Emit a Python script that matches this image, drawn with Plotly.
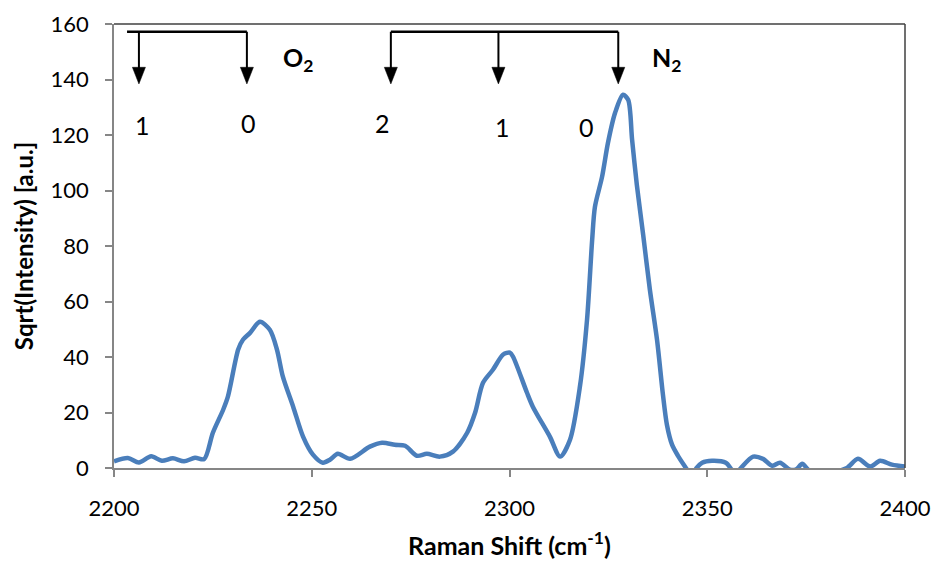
import plotly.graph_objects as go

# Spectrum
shift = [2200, 2203.5, 2206.3, 2209.4, 2212.1, 2214.9, 2217.7, 2220.5, 2222.8, 2225, 2227.6, 2228.8,
         2231.4, 2232.6, 2234.4, 2236.9, 2239.4, 2241.2, 2242.7, 2245.3, 2247.8, 2250.3, 2252.8,
         2254.6, 2256.6, 2259.7, 2264.7, 2267.8, 2271, 2273.6, 2276.6, 2279.1, 2282.4, 2285.7,
         2289.3, 2291.3, 2293.3, 2295.8, 2298.4, 2300.1, 2300.9, 2304.4, 2305.9, 2310.2, 2312.8,
         2315.3, 2317.8, 2319.6, 2320.9, 2321.6, 2323.4, 2324.9, 2326.7, 2328.7, 2330, 2331,
         2332.2, 2333.8, 2335.5, 2337.3, 2338.8, 2339.8, 2341.1, 2342.6, 2344.9, 2346, 2347.3, 2348.7,
         2351.2, 2354.7, 2356.2, 2357.2, 2358.5, 2361.6, 2364.1, 2366.4, 2368.4, 2370.9, 2372.5,
         2374, 2375.5, 2377.5, 2379.5, 2381.8, 2385.3, 2388.1, 2391.2, 2393.7, 2396.7, 2400]
sqrt_int = [2.4, 3.6, 2.0, 4.2, 2.6, 3.5, 2.4, 3.7, 3.2, 12.7, 21, 25.7,
            42.7, 46.2, 48.7, 52.7, 49.8, 42.7, 32.9, 22.1, 11.3, 4.8, 1.9,
            3.0, 5.1, 3.3, 7.7, 9.1, 8.4, 8.0, 4.4, 5.1, 4.1, 5.9,
            12.7, 19.9, 30.7, 35.4, 40.9, 41.6, 40.1, 27.2, 22.1, 11.3, 4.1,
            10.2, 29.3, 53.4, 82.2, 94.1, 104.9, 117.2, 128, 134.5, 132.7, 118.3,
            102, 84, 64.2, 46.2, 26.4, 15.6, 8.4, 4.4, -0.6, -3, 0, 1.9,
            2.6, 1.9, -0.6, -2, 0, 4.1, 3.3, 0.8, 1.9, -0.6, -0.5,
            1.5, -0.6, -3, -1, -1.3, 0, 3.3, 0.5, 2.6, 1.2, 0.5]

# Transition markers
o2_pos = [2206.3, 2233.6]
o2_labels = ["1", "0"]
n2_pos = [2270, 2297.2, 2327.5]
n2_labels = ["2", "1", "0"]
label_x = [2207.1, 2234.1, 2267.9, 2298.2, 2319.4]
label_y = [123.6, 124.3, 124.3, 122.9, 122.9]
label_text = o2_labels + n2_labels
bracket_y = 157.2
arrow_tip_y = 138.4
o2_bracket_start = 2203.3
species = ["O<sub>2</sub>", "N<sub>2</sub>"]
species_x = [2246.4, 2339.8]
species_y = [147.5, 147.5]

# arrow-head size in data units
head_len = 6.0
head_half = 1.65

FONT = "Lato"

fig = go.Figure()
fig.add_trace(go.Scatter(x=shift, y=sqrt_int, mode="lines",
                         line=dict(color="#4A7EBB", width=4.5, shape="spline", smoothing=0.8),
                         showlegend=False, hoverinfo="skip"))

shapes = []
# brackets
shapes.append(dict(type="line", xref="x", yref="y", x0=o2_bracket_start, x1=o2_pos[-1],
                   y0=bracket_y, y1=bracket_y, line=dict(color="black", width=2.4)))
shapes.append(dict(type="line", xref="x", yref="y", x0=n2_pos[0], x1=n2_pos[-1],
                   y0=bracket_y, y1=bracket_y, line=dict(color="black", width=2.4)))
# arrows (shaft + filled head)
for xp in o2_pos + n2_pos:
    shapes.append(dict(type="line", xref="x", yref="y", x0=xp, x1=xp,
                       y0=bracket_y, y1=arrow_tip_y + head_len * 0.8,
                       line=dict(color="black", width=2)))
    shapes.append(dict(type="path", xref="x", yref="y",
                       path=f"M {xp - head_half},{arrow_tip_y + head_len} L {xp + head_half},{arrow_tip_y + head_len} L {xp},{arrow_tip_y} Z",
                       fillcolor="black", line=dict(color="black", width=0.5)))
# plot-area border top & right
shapes.append(dict(type="line", xref="x domain", yref="y domain", x0=0, x1=1, y0=1, y1=1,
                   line=dict(color="#404040", width=1.5)))
shapes.append(dict(type="line", xref="x domain", yref="y domain", x0=1, x1=1, y0=0, y1=1,
                   line=dict(color="#404040", width=1.5)))

annotations = []
for xl, yl, t in zip(label_x, label_y, label_text):
    annotations.append(dict(x=xl, y=yl, xref="x", yref="y", text=t, showarrow=False,
                            font=dict(family=FONT, size=25, color="black")))
for xs, ys, t in zip(species_x, species_y, species):
    annotations.append(dict(x=xs, y=ys, xref="x", yref="y", text="<b>" + t + "</b>",
                            showarrow=False, font=dict(family=FONT, size=25, color="black")))

fig.update_layout(
    width=934, height=562,
    margin=dict(l=114, r=29, t=24, b=94),
    paper_bgcolor="white", plot_bgcolor="white",
    font=dict(family=FONT, size=22, color="black"),
    shapes=shapes, annotations=annotations,
    xaxis=dict(range=[2200, 2400], tickvals=[2200, 2250, 2300, 2350, 2400], automargin=False,
               showgrid=False, zeroline=False, showline=True, linecolor="#868686", linewidth=1.5,
               ticks="outside", ticklen=7, tickcolor="#868686", tickwidth=1.5,
               ticklabelstandoff=13,
               tickfont=dict(family=FONT, size=22, color="black"),
               title=dict(text="<b>Raman Shift (cm<sup>-1</sup>)</b>", standoff=17,
                          font=dict(family=FONT, size=25, color="black"))),
    yaxis=dict(range=[0, 160], tickvals=[0, 20, 40, 60, 80, 100, 120, 140, 160], automargin=False,
               showgrid=False, zeroline=False, showline=True, linecolor="#868686", linewidth=1.5,
               ticks="outside", ticklen=7, tickcolor="#868686", tickwidth=1.5,
               ticklabelstandoff=12,
               tickfont=dict(family=FONT, size=22, color="black"),
               title=dict(text="<b>Sqrt(Intensity) [a.u.]</b>", standoff=10,
                          font=dict(family=FONT, size=24, color="black"))),
)

fig.write_html("out.html")
